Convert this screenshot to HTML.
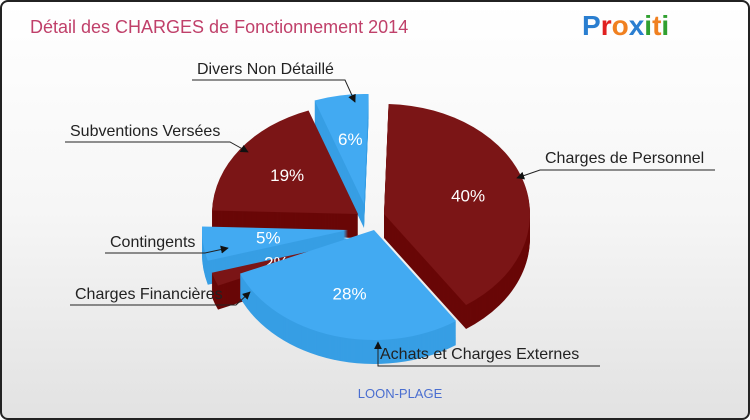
<!DOCTYPE html>
<html><head><meta charset="utf-8"><style>
body{margin:0;width:750px;height:420px;overflow:hidden;font-family:"Liberation Sans",sans-serif}
#frame{position:absolute;left:0;top:0;width:746px;height:416px;border:2px solid #222;border-radius:8px;background:linear-gradient(#ffffff,#f6f6f6 50%,#e2e2e2);overflow:hidden}
</style></head><body>
<div id="frame">
<svg id="chart" width="750" height="420" style="position:absolute;left:-2px;top:-2px">
<defs><marker id="arr" viewBox="0 0 10 10" refX="9" refY="5" markerWidth="8" markerHeight="8" orient="auto"><path d="M0,0L10,5L0,10Z" fill="#111"/></marker></defs>
<text x="30" y="33" font-size="18" fill="#c0406a">Détail des CHARGES de Fonctionnement 2014</text>
<g font-size="28" font-weight="bold">
<text x="582" y="35"><tspan fill="#2a7ed0">P</tspan><tspan fill="#e02020">r</tspan><tspan fill="#f08020">o</tspan><tspan fill="#2a7ed0">x</tspan><tspan fill="#30a030">i</tspan><tspan fill="#f08020">t</tspan><tspan fill="#30a030">i</tspan></text>
</g>
<g id="slices"></g>
<g id="labels" font-size="16" fill="#222"></g>
<text x="400" y="398" font-size="13" fill="#4a6ed0" text-anchor="middle">LOON-PLAGE</text>
</svg>
</div>
<script>
const categories=["Charges de Personnel","Achats et Charges Externes","Charges Financières","Contingents","Subventions Versées","Divers Non Détaillé"];
const values=[40,28,2,5,19,6];
const labels=["40%","28%","2%","5%","19%","6%"];
const NS="http://www.w3.org/2000/svg";
const cx=368,cy=218,rx=146,ry=110,depth=24;
const explode=[[16,-4],[6,12],[-16,24],[-20,12],[-10,-4],[-4,-14]];
const colorsTop=["#7b1516","#42aaf2"],colorsSide=["#690707","#379ee4"];
const total=values.reduce((a,b)=>a+b,0);
const g=document.getElementById('slices');
let acc=0.5;const slices=[];
values.forEach((v,i)=>{const a0=acc/total*2*Math.PI;acc+=v;const a1=acc/total*2*Math.PI;slices.push({i,a0,a1});});
function pt(x0,y0,a){return [x0+rx*Math.sin(a),y0-ry*Math.cos(a)];}
function path(s,dy){const ox=cx+explode[s.i][0],oy=cy+explode[s.i][1]+dy;const p0=pt(ox,oy,s.a0),p1=pt(ox,oy,s.a1);const large=(s.a1-s.a0)>Math.PI?1:0;return `M${ox},${oy}L${p0[0]},${p0[1]}A${rx},${ry} 0 ${large} 1 ${p1[0]},${p1[1]}Z`;}
const order=[5,4,0,3,2,1];
order.forEach(k=>{const s=slices[k];const c=s.i%2;
 const grp=document.createElementNS(NS,'g');
 
 
 for(let d=depth;d>0;d-=1){const p=document.createElementNS(NS,'path');p.setAttribute('d',path(s,d));p.setAttribute('fill',colorsSide[c]);grp.appendChild(p);}
 const t=document.createElementNS(NS,'path');t.setAttribute('d',path(s,0));t.setAttribute('fill',colorsTop[c]);grp.appendChild(t);
 const am=(s.a0+s.a1)/2,f=s.i==2||s.i==3?0.55:0.6;
 const tx=document.createElementNS(NS,'text');
 tx.setAttribute('x',cx+explode[s.i][0]+rx*f*Math.sin(am));tx.setAttribute('y',cy+explode[s.i][1]-ry*f*Math.cos(am)+6);
 tx.setAttribute('fill','#fff');tx.setAttribute('font-size','17');tx.setAttribute('text-anchor','middle');tx.textContent=labels[s.i];
 
 
 grp.appendChild(tx);g.appendChild(grp);});
const lab=[
 [categories[0],545,163,"M715,170H540L517,178"],
 [categories[1],380,359,"M600,366H378V342"],
 [categories[2],75,299,"M70,305H236L250,292"],
 [categories[3],110,247,"M105,253H205L228,248"],
 [categories[4],70,136,"M65,142H230L248,152"],
 [categories[5],197,74,"M192,80H345L355,102"]];
const L=document.getElementById('labels');
lab.forEach((l,i)=>{const p=document.createElementNS(NS,'path');p.setAttribute('d',l[3]);p.setAttribute('stroke','#222');p.setAttribute('fill','none');p.setAttribute('marker-end','url(#arr)');
 
 
 L.appendChild(p);
 const t=document.createElementNS(NS,'text');t.setAttribute('x',l[1]);t.setAttribute('y',l[2]);t.textContent=l[0];
 
 
 L.appendChild(t);});
</script>
</body></html>
